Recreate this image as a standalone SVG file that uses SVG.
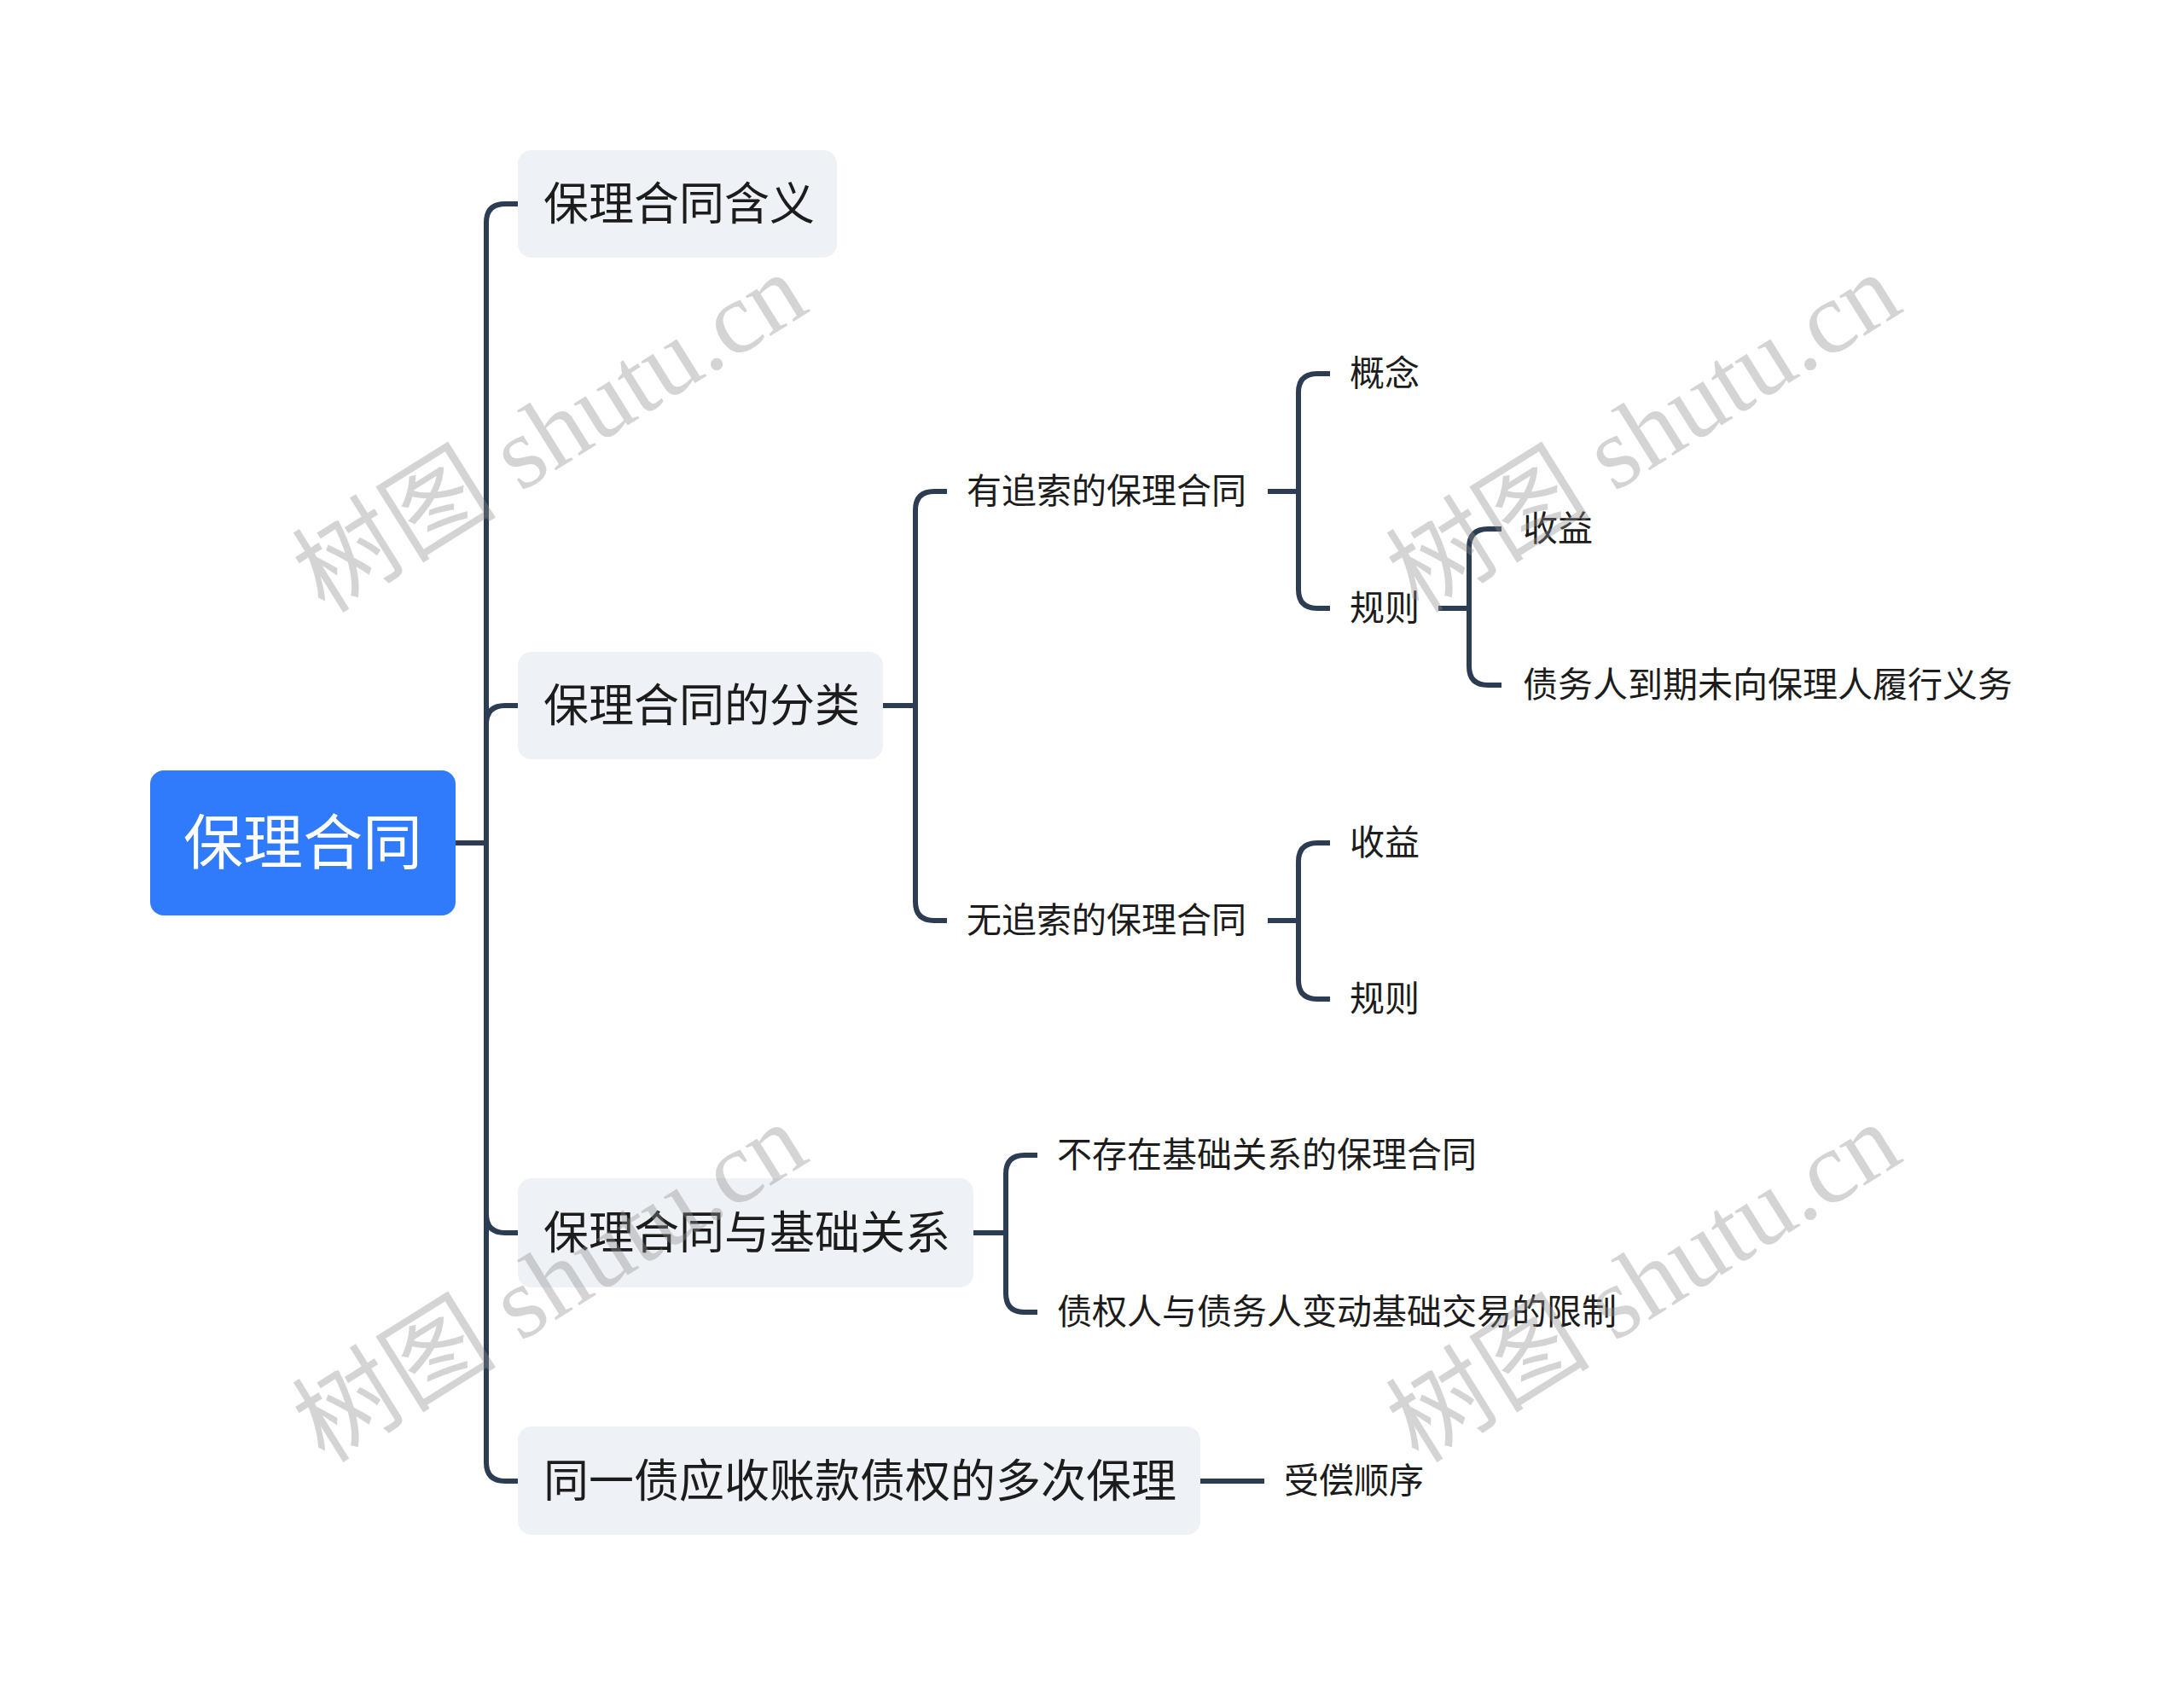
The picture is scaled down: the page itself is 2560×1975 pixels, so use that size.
<svg xmlns="http://www.w3.org/2000/svg" width="2560" height="1975" viewBox="0 0 2560 1975">
<style>
.conn path{fill:none;stroke:#2c3c52;stroke-width:6;stroke-linecap:butt;stroke-linejoin:round}
.t{font-family:"Noto Sans CJK SC","Noto Sans",sans-serif;fill:#1c1c1c}
.root rect{fill:#307bfb}
.root text{font-family:"Noto Sans CJK SC","Noto Sans",sans-serif;fill:#ffffff;font-size:70px}
.l1 rect{fill:#eef1f5}
.l1 text{font-size:53px}
.l2 text{font-size:41px}
.wm{font-family:"Liberation Serif","Noto Sans CJK SC",serif;font-size:120px;fill:#8f8f8f;fill-opacity:0.38}
</style>
<rect width="2560" height="1975" fill="#ffffff"/>
<g class="conn" id="connectors">
<path d="M534,988 H570"/>
<path d="M570,988 V261 Q570,239 592,239 H607"/>
<path d="M570,988 V849 Q570,827 592,827 H607"/>
<path d="M570,988 V1423 Q570,1445 592,1445 H607"/>
<path d="M570,988 V1714 Q570,1736 592,1736 H607"/>
<path d="M1035,827 H1073"/>
<path d="M1073,827 V598 Q1073,576 1095,576 H1110"/>
<path d="M1073,827 V1057 Q1073,1079 1095,1079 H1110"/>
<path d="M1486,576 H1522"/>
<path d="M1522,576 V460 Q1522,438 1544,438 H1559"/>
<path d="M1522,576 V691 Q1522,713 1544,713 H1559"/>
<path d="M1686,713 H1722"/>
<path d="M1722,713 V642 Q1722,620 1744,620 H1760"/>
<path d="M1722,713 V781 Q1722,803 1744,803 H1760"/>
<path d="M1486,1079 H1522"/>
<path d="M1522,1079 V1010 Q1522,988 1544,988 H1559"/>
<path d="M1522,1079 V1149 Q1522,1171 1544,1171 H1559"/>
<path d="M1141,1445 H1179"/>
<path d="M1179,1445 V1376 Q1179,1354 1201,1354 H1216"/>
<path d="M1179,1445 V1516 Q1179,1538 1201,1538 H1216"/>
<path d="M1407,1736 H1482"/>
</g>
<g id="root" class="root">
<rect x="176" y="903" width="358" height="170" rx="16"/>
<text x="355" y="1013" text-anchor="middle">保理合同</text>
</g>
<g id="n1" class="l1"><rect x="607" y="176" width="374" height="126" rx="16"/><text class="t" x="637" y="258">保理合同含义</text></g>
<g id="n2" class="l1"><rect x="607" y="764" width="428" height="126" rx="16"/><text class="t" x="637" y="846">保理合同的分类</text></g>
<g id="n3" class="l1"><rect x="607" y="1381" width="534" height="128" rx="16"/><text class="t" x="637" y="1464">保理合同与基础关系</text></g>
<g id="n4" class="l1"><rect x="607" y="1672" width="800" height="127" rx="16"/><text class="t" x="637" y="1755">同一债应收账款债权的多次保理</text></g>
<g id="n2a" class="l2"><text class="t" x="1133" y="590">有追索的保理合同</text></g>
<g id="n2a1" class="l2"><text class="t" x="1582" y="452">概念</text></g>
<g id="n2a2" class="l2"><text class="t" x="1582" y="727">规则</text></g>
<g id="n2a2a" class="l2"><text class="t" x="1785" y="634">收益</text></g>
<g id="n2a2b" class="l2"><text class="t" x="1785" y="817">债务人到期未向保理人履行义务</text></g>
<g id="n2b" class="l2"><text class="t" x="1133" y="1093">无追索的保理合同</text></g>
<g id="n2b1" class="l2"><text class="t" x="1582" y="1002">收益</text></g>
<g id="n2b2" class="l2"><text class="t" x="1582" y="1185">规则</text></g>
<g id="n3a" class="l2"><text class="t" x="1239" y="1368">不存在基础关系的保理合同</text></g>
<g id="n3b" class="l2"><text class="t" x="1239" y="1552">债权人与债务人变动基础交易的限制</text></g>
<g id="n4a" class="l2"><text class="t" x="1505" y="1750">受偿顺序</text></g>
<g id="watermarks">
<text class="wm" text-anchor="middle" transform="translate(645,508) rotate(-32)" y="40">树图 shutu.cn</text>
<text class="wm" text-anchor="middle" transform="translate(1927,508) rotate(-32)" y="40">树图 shutu.cn</text>
<text class="wm" text-anchor="middle" transform="translate(645,1504) rotate(-32)" y="40">树图 shutu.cn</text>
<text class="wm" text-anchor="middle" transform="translate(1927,1504) rotate(-32)" y="40">树图 shutu.cn</text>
</g>
</svg>
